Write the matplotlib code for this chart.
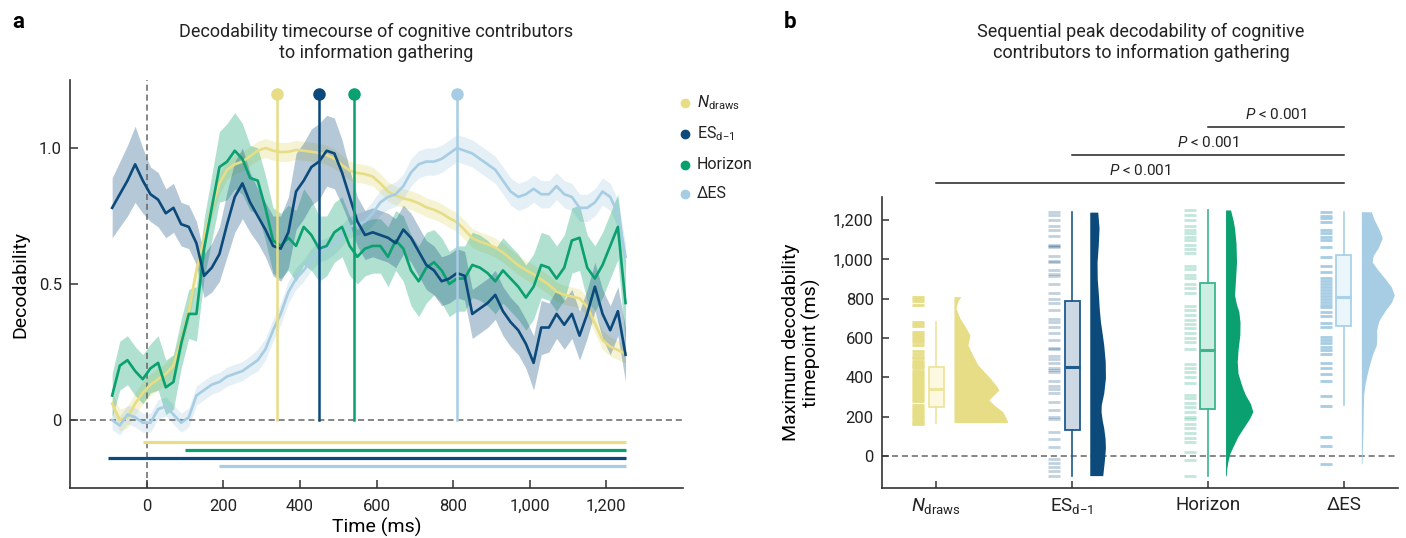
import numpy as np
import matplotlib.pyplot as plt
from matplotlib.ticker import FuncFormatter

plt.rcParams['font.family'] = ['Roboto', 'DejaVu Sans']
plt.rcParams['mathtext.fontset'] = 'custom'
plt.rcParams['mathtext.rm'] = 'Roboto'
plt.rcParams['mathtext.it'] = 'Roboto:italic'
plt.rcParams['mathtext.bf'] = 'Roboto:bold'
plt.rcParams['axes.edgecolor'] = '#333333'
plt.rcParams['xtick.color'] = '#333333'
plt.rcParams['ytick.color'] = '#333333'
plt.rcParams['xtick.labelcolor'] = '#222222'
plt.rcParams['ytick.labelcolor'] = '#222222'

# ---- data ----
labels = [r'$N_{\rm draws}$', r'ES$_{\rm d{-}1}$', 'Horizon', 'ΔES']
colors = ['#e6dd86', '#0b4a7b', '#0aa06f', '#a6cde3']

t = np.arange(-90, 1251, 20)

nd = [0.06, 0.00, 0.01, 0.06, 0.10, 0.13, 0.15, 0.17, 0.20, 0.29, 0.40, 0.55, 0.67, 0.78, 0.87, 0.92, 0.94, 0.95, 0.97, 0.99, 1.00, 0.99,
      0.985, 0.986, 0.993, 0.99, 0.986, 0.982, 0.974, 0.961, 0.937, 0.917, 0.908, 0.904, 0.895, 0.87, 0.84, 0.825, 0.815, 0.808, 0.797, 0.782, 0.773, 0.76, 0.742,
      0.727, 0.699, 0.669, 0.656, 0.646, 0.634, 0.616, 0.592, 0.569, 0.551, 0.536, 0.516, 0.497, 0.472, 0.46, 0.454, 0.447, 0.417, 0.355, 0.294, 0.27, 0.257, 0.245]
es = [0.78, 0.83, 0.88, 0.94, 0.88, 0.83, 0.81, 0.76, 0.78, 0.72, 0.71, 0.65, 0.53, 0.56, 0.61, 0.72, 0.82, 0.87, 0.80, 0.75, 0.70, 0.64,
      0.63, 0.69, 0.84, 0.88, 0.93, 0.95, 0.99, 0.98, 0.91, 0.82, 0.73, 0.68, 0.69, 0.68, 0.67, 0.65, 0.70, 0.67, 0.62, 0.57, 0.55, 0.51, 0.52,
      0.54, 0.53, 0.39, 0.41, 0.43, 0.46, 0.40, 0.36, 0.33, 0.28, 0.21, 0.34, 0.34, 0.39, 0.35, 0.39, 0.31, 0.39, 0.49, 0.39, 0.33, 0.40, 0.24]
hz = [0.09, 0.20, 0.22, 0.18, 0.15, 0.19, 0.21, 0.12, 0.14, 0.28, 0.39, 0.39, 0.63, 0.78, 0.93, 0.95, 0.99, 0.96, 0.89, 0.88, 0.78, 0.66,
      0.64, 0.67, 0.64, 0.71, 0.68, 0.63, 0.64, 0.69, 0.71, 0.64, 0.60, 0.63, 0.64, 0.64, 0.60, 0.66, 0.63, 0.55, 0.51, 0.56, 0.58, 0.55, 0.50,
      0.52, 0.52, 0.57, 0.56, 0.54, 0.51, 0.55, 0.52, 0.49, 0.45, 0.49, 0.57, 0.56, 0.52, 0.56, 0.66, 0.67, 0.56, 0.52, 0.57, 0.64, 0.71, 0.43]
des = [0.00, -0.02, 0.02, 0.01, -0.01, -0.01, 0.04, 0.05, 0.02, -0.01, 0.01, 0.09, 0.11, 0.13, 0.14, 0.16, 0.17, 0.18, 0.20, 0.22, 0.26, 0.33,
       0.39, 0.47, 0.52, 0.55, 0.59, 0.62, 0.63, 0.65, 0.68, 0.71, 0.72, 0.73, 0.76, 0.80, 0.82, 0.83, 0.86, 0.91, 0.94, 0.95, 0.95, 0.96, 0.98,
       1.00, 0.99, 0.98, 0.96, 0.94, 0.92, 0.88, 0.84, 0.82, 0.83, 0.85, 0.83, 0.83, 0.86, 0.83, 0.82, 0.78, 0.78, 0.80, 0.84, 0.82, 0.76, 0.60]

nd_err = [0.04, 0.04, 0.04, 0.04, 0.04, 0.04, 0.04, 0.04, 0.04, 0.04, 0.04, 0.04, 0.04, 0.04, 0.04, 0.035, 0.035, 0.035, 0.035, 0.035, 0.035, 0.035,
          0.035, 0.035, 0.035, 0.035, 0.035, 0.035, 0.035, 0.035, 0.035, 0.035, 0.035, 0.035, 0.035, 0.035, 0.035, 0.035, 0.035, 0.035, 0.035, 0.035, 0.035, 0.035, 0.035,
          0.035, 0.035, 0.035, 0.035, 0.035, 0.035, 0.035, 0.035, 0.035, 0.035, 0.035, 0.035, 0.035, 0.035, 0.035, 0.035, 0.035, 0.035, 0.035, 0.035, 0.035, 0.035, 0.035]
es_err = [0.11, 0.12, 0.13, 0.14, 0.12, 0.10, 0.10, 0.09, 0.09, 0.08, 0.08, 0.08, 0.08, 0.09, 0.10, 0.12, 0.13, 0.13, 0.11, 0.10, 0.10, 0.11,
          0.12, 0.13, 0.14, 0.14, 0.14, 0.14, 0.13, 0.13, 0.12, 0.10, 0.09, 0.09, 0.09, 0.09, 0.09, 0.09, 0.09, 0.09, 0.09, 0.09, 0.09, 0.09, 0.09,
          0.09, 0.09, 0.09, 0.09, 0.09, 0.09, 0.09, 0.09, 0.09, 0.09, 0.10, 0.10, 0.09, 0.09, 0.09, 0.09, 0.09, 0.09, 0.09, 0.09, 0.09, 0.09, 0.10]
hz_err = [0.08, 0.09, 0.09, 0.09, 0.09, 0.09, 0.10, 0.10, 0.10, 0.09, 0.09, 0.10, 0.11, 0.12, 0.13, 0.14, 0.14, 0.13, 0.12, 0.12, 0.12, 0.12,
          0.12, 0.12, 0.13, 0.14, 0.13, 0.12, 0.11, 0.11, 0.11, 0.11, 0.10, 0.10, 0.10, 0.10, 0.11, 0.11, 0.12, 0.13, 0.13, 0.13, 0.12, 0.12, 0.12,
          0.12, 0.12, 0.12, 0.12, 0.12, 0.12, 0.12, 0.12, 0.12, 0.12, 0.12, 0.12, 0.12, 0.12, 0.12, 0.12, 0.12, 0.12, 0.12, 0.12, 0.12, 0.12, 0.15]
des_err = [0.035, 0.035, 0.035, 0.035, 0.035, 0.035, 0.035, 0.035, 0.035, 0.035, 0.035, 0.035, 0.035, 0.035, 0.035, 0.035, 0.035, 0.035, 0.035, 0.04, 0.04, 0.04,
           0.04, 0.04, 0.04, 0.04, 0.04, 0.04, 0.04, 0.04, 0.04, 0.04, 0.04, 0.04, 0.045, 0.045, 0.045, 0.045, 0.045, 0.05, 0.05, 0.05, 0.05, 0.05, 0.05,
           0.05, 0.05, 0.05, 0.05, 0.05, 0.05, 0.05, 0.05, 0.05, 0.05, 0.05, 0.05, 0.05, 0.05, 0.05, 0.05, 0.05, 0.05, 0.05, 0.05, 0.05, 0.05, 0.05]

peak_t = [340, 450, 540, 810]
sig_start = [-10, -100, 100, 190]
sig_end = [1250, 1250, 1250, 1250]
sig_y = [-0.08, -0.14, -0.11, -0.17]

# panel b: box stats (ms)
q1 = [250, 130, 240, 660]
med = [340, 450, 540, 810]
q3 = [450, 790, 880, 1020]
whis_lo = [170, -100, -100, 260]
whis_hi = [680, 1240, 1250, 1240]

rug_nd = [810, 800, 788, 768, 683, 673, 663, 632, 622, 612, 602, 590, 578, 564, 534, 520, 505, 497, 485, 475, 465, 455, 446,
          432, 420, 410, 400, 390, 380, 370, 360, 350, 340, 330, 320, 310, 300, 290, 282,
          259, 250, 240, 230, 220, 210, 200, 190, 180, 170, 160]
rug_es = [1239, 1225, 1200, 1169, 1151, 1120, 1073, 1068, 1065, 1017, 992, 985, 948, 924, 915, 876, 827, 798, 776, 742, 696,
          683, 656, 624, 588, 551, 544, 508, 491, 474, 446, 437, 429, 383, 356, 339, 319, 273, 232, 200, 188, 124, 85, 47,
          -17, -34, -54, -76, -102]
rug_hz = [1251, 1225, 1200, 1171, 1149, 1132, 1115, 1098, 1073, 1052, 1030, 968, 951, 920, 907, 873, 856, 831, 763, 742,
          717, 691, 669, 649, 624, 602, 581, 542, 466, 449, 429, 403, 369, 310, 293, 268, 251, 225, 200, 186, 161, 144,
          119, 90, 70, 22, -20, -102]
rug_des = [1242, 1220, 1208, 1191, 1149, 1132, 1115, 1098, 1064, 1013, 968, 934, 905, 890, 875, 860, 845, 830, 815, 800,
           785, 770, 760, 730, 713, 674, 657, 606, 589, 572, 556, 539, 517, 471, 446, 417, 383, 305, 256, 98, 53, -42]
rugs = [rug_nd, rug_es, rug_hz, rug_des]

# half-violin profiles: value (ms), density (relative)
vio_nd_y = [170, 195, 224, 260, 285, 310, 336, 360, 397, 430, 463, 520, 564, 590, 615, 660, 700, 752, 790, 810]
vio_nd_w = [54, 52, 49, 40, 35, 40, 45, 42, 36, 30, 24, 18, 14, 15, 16, 11, 6, 2, 4, 7]
vio_es_y = [-100, -30, 41, 90, 142, 180, 225, 260, 320, 397, 480, 564, 620, 683, 750, 818, 900, 986, 1070, 1159, 1240]
vio_es_w = [13, 14.5, 15.7, 15.3, 14, 12.5, 11.3, 11.5, 14, 15.7, 15.5, 14, 12.5, 10.7, 9.5, 8.7, 7.5, 7.3, 8.5, 9.3, 8]
vio_hz_y = [-100, -65, -29, 15, 56, 100, 141, 190, 225, 265, 310, 340, 378, 420, 479, 540, 615, 680, 734, 770, 818, 900,
            986, 1080, 1159, 1200, 1251]
vio_hz_w = [0.7, 1.2, 2.3, 4.5, 8.3, 12.5, 17.7, 24, 27.3, 25, 20, 17.5, 15, 12.5, 11.7, 12.5, 14.3, 14.5, 13.3, 11, 9, 10,
            11, 10.5, 9, 7.5, 5]
vio_des_y = [-40, 20, 80, 142, 200, 250, 310, 360, 420, 479, 520, 564, 600, 640, 683, 700, 740, 780, 818, 860, 900, 950,
             988, 1020, 1060, 1108, 1150, 1200, 1242]
vio_des_w = [0.7, 1, 1.3, 1.7, 1.8, 2, 2.3, 3.5, 6, 9, 11.5, 15, 15.5, 15.3, 17.3, 19, 24, 30, 33, 30, 24, 16,
             10.7, 12, 17, 21, 18, 13, 10]
vio_y = [vio_nd_y, vio_es_y, vio_hz_y, vio_des_y]
vio_w = [vio_nd_w, vio_es_w, vio_hz_w, vio_des_w]

p_labels = [r'$P$ < 0.001', r'$P$ < 0.001', r'$P$ < 0.001']
p_from = [2, 1, 0]
p_y = [1673, 1530, 1388]

box_face = ['#fdf9e1', '#ccd9e4', '#cdeee2', '#eaf5fc']
box_edge = ['#ede59c', '#1e5b8c', '#3ab68a', '#a9d1e7']
rug_alpha = [1.0, 0.25, 0.25, 1.0]

comma = FuncFormatter(lambda v, p: f'{int(v):,}')

fig = plt.figure(figsize=(14.06, 5.38), dpi=100)

# ---------------- panel a ----------------
ax = fig.add_axes([70 / 1406, 50 / 538, 613 / 1406, 408 / 538])
series = [nd, es, hz, des]
errs = [nd_err, es_err, hz_err, des_err]
band_alpha = [0.35, 0.3, 0.32, 0.3]
for i in [0, 3, 2, 1]:
    y = np.array(series[i])
    e = np.array(errs[i])
    ax.fill_between(t, y - e, y + e, color=colors[i], alpha=band_alpha[i], lw=0)
    ax.plot(t, y, color=colors[i], lw=1.9, zorder=3)

ax.axhline(0, color='#666666', lw=1.1, ls=(0, (4, 2.5)), zorder=1)
ax.axvline(0, color='#666666', lw=1.1, ls=(0, (4, 2.5)), zorder=1)

for i in range(4):
    ax.plot([peak_t[i], peak_t[i]], [0, 1.2], color=colors[i], lw=1.8, zorder=4)
    ax.plot(peak_t[i], 1.2, 'o', color=colors[i], ms=8, zorder=5)
    ax.hlines(sig_y[i], sig_start[i], sig_end[i], color=colors[i], lw=2.3)

ax.set_xlim(-200, 1400)
ax.set_ylim(-0.25, 1.25)
ax.set_xticks([0, 200, 400, 600, 800, 1000, 1200])
ax.xaxis.set_major_formatter(comma)
ax.set_yticks([0, 0.5, 1.0])
ax.set_yticklabels(['0', '0.5', '1.0'])
for s in ['top', 'right']:
    ax.spines[s].set_visible(False)
for s in ['left', 'bottom']:
    ax.spines[s].set_linewidth(1.2)
ax.tick_params(direction='in', length=6, width=1.1, labelsize=12)
ax.tick_params(axis='x', pad=8)
ax.tick_params(axis='y', pad=6)
ax.set_xlabel('Time (ms)', fontsize=14)
ax.xaxis.set_label_coords(0.5, -0.072)
ax.set_ylabel('Decodability', fontsize=14)
ax.yaxis.set_label_coords(-0.066, 0.5)

leg_y = [0.944, 0.868, 0.792, 0.721]
for i in range(4):
    ax.plot(1.0033, leg_y[i], 'o', color=colors[i], ms=6, transform=ax.transAxes, clip_on=False)
    ax.text(1.0225, leg_y[i], labels[i], transform=ax.transAxes, fontsize=11.5, va='center', ha='left', color='#222222')

# ---------------- panel b ----------------
bx = fig.add_axes([882 / 1406, 50 / 538, 516 / 1406, 291 / 538])
bx.axhline(0, color='#666666', lw=1.1, ls=(0, (4, 2.5)), zorder=0)
for i in range(4):
    bx.hlines(rugs[i], i - 0.177, i - 0.089, color=colors[i], alpha=rug_alpha[i], lw=2)
    stats = [dict(med=med[i], q1=q1[i], q3=q3[i], whislo=whis_lo[i], whishi=whis_hi[i], fliers=[])]
    bx.bxp(stats, positions=[i], widths=0.11, showcaps=False, showfliers=False, patch_artist=True,
           manage_ticks=False,
           boxprops=dict(facecolor=box_face[i], edgecolor=box_edge[i], lw=1.3),
           medianprops=dict(color=box_edge[i], lw=2.2),
           whiskerprops=dict(color=box_edge[i], lw=1.2))
    vy = np.array(vio_y[i])
    vw = np.array(vio_w[i]) / 136
    bx.fill_betweenx(vy, i + 0.13, i + 0.13 + vw, color=colors[i], lw=0)

for k in range(3):
    bx.plot([p_from[k], 3], [p_y[k], p_y[k]], color='#222222', lw=1.1, clip_on=False)
    bx.text((p_from[k] + 3) / 2, p_y[k] + 66, p_labels[k], ha='center', va='center', fontsize=11, color='#222222')

bx.set_xlim(-0.4, 3.4)
bx.set_ylim(-163, 1317)
bx.set_xticks(range(4))
bx.set_xticklabels(labels)
bx.set_yticks([0, 200, 400, 600, 800, 1000, 1200])
bx.yaxis.set_major_formatter(comma)
for s in ['top', 'right']:
    bx.spines[s].set_visible(False)
for s in ['left', 'bottom']:
    bx.spines[s].set_linewidth(1.2)
bx.tick_params(direction='in', length=5, width=1.1, labelsize=12, pad=6)
bx.tick_params(axis='x', labelsize=13.5, pad=6)
bx.set_ylabel('Maximum decodability\ntimepoint (ms)', fontsize=14, linespacing=1.1)
bx.yaxis.set_label_coords(-0.118, 0.5)

# titles and panel letters
fig.text(376 / 1406, 1 - 42 / 538, 'Decodability timecourse of cognitive contributors\nto information gathering',
         ha='center', va='center', fontsize=13, linespacing=1.2, color='#222222')
fig.text(1141 / 1406, 1 - 42 / 538, 'Sequential peak decodability of cognitive\ncontributors to information gathering',
         ha='center', va='center', fontsize=13, linespacing=1.2, color='#222222')
fig.text(12 / 1406, 1 - 22 / 538, 'a', fontsize=16, fontweight='bold', va='center', ha='left')
fig.text(784 / 1406, 1 - 22 / 538, 'b', fontsize=16, fontweight='bold', va='center', ha='left')

fig.savefig('out.png', dpi=100)
